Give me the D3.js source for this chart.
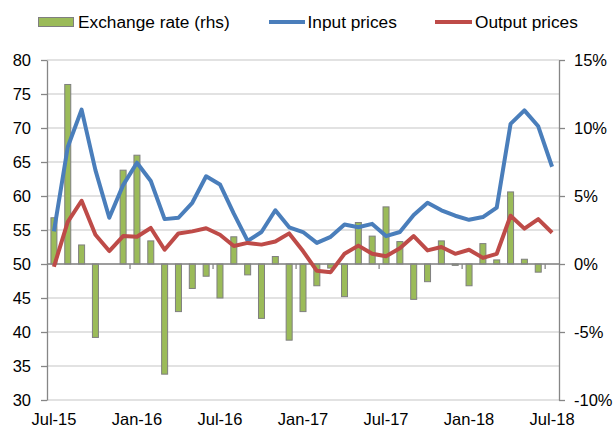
<!DOCTYPE html>
<html>
<head>
<meta charset="utf-8">
<script src="https://cdn.jsdelivr.net/npm/d3@7"></script>
<style>
  body { margin: 0; background: #fff; }
  svg { font-family: "Liberation Sans", Arial, sans-serif; }
</style>
</head>
<body>
<div id="chart"></div>
<script>
// months Jul-15 .. Jul-18
var months = ["Jul-15","Aug-15","Sep-15","Oct-15","Nov-15","Dec-15",
              "Jan-16","Feb-16","Mar-16","Apr-16","May-16","Jun-16",
              "Jul-16","Aug-16","Sep-16","Oct-16","Nov-16","Dec-16",
              "Jan-17","Feb-17","Mar-17","Apr-17","May-17","Jun-17",
              "Jul-17","Aug-17","Sep-17","Oct-17","Nov-17","Dec-17",
              "Jan-18","Feb-18","Mar-18","Apr-18","May-18","Jun-18",
              "Jul-18"];
var xLabels = ["Jul-15","Jan-16","Jul-16","Jan-17","Jul-17","Jan-18","Jul-18"];

// exchange rate, % (right axis)
var exchangeRate = [3.4, 13.2, 1.4, -5.4, null, 6.9,
                    8.0, 1.7, -8.1, -3.5, -1.8, -0.9,
                    -2.5, 2.0, -0.8, -4.0, 0.55, -5.6,
                    -3.5, -1.6, -0.3, -2.4, 3.05, 2.05,
                    4.2, 1.65, -2.6, -1.3, 1.7, -0.1,
                    -1.6, 1.5, 0.3, 5.3, 0.35, -0.6,
                    null];
// input and output prices (left axis)
var inputPrices = [54.8, 67.2, 72.7, 63.8, 56.8, 61.6,
                   64.9, 62.2, 56.6, 56.8, 59.0, 62.9,
                   61.7, 57.4, 53.4, 54.7, 57.9, 55.4,
                   54.7, 53.1, 54.0, 55.8, 55.4, 55.9,
                   54.1, 54.7, 57.2, 59.0, 57.9, 57.1,
                   56.5, 56.9, 58.3, 70.6, 72.6, 70.25,
                   64.3];
var outputPrices = [49.6, 56.2, 59.3, 54.3, 51.9, 54.1,
                    54.0, 55.3, 52.1, 54.5, 54.8, 55.25,
                    54.3, 52.65, 53.1, 52.85, 53.3, 54.5,
                    51.9, 49.0, 48.8, 51.5, 52.7, 51.5,
                    51.15, 52.3, 54.1, 52.0, 52.5, 51.5,
                    52.1, 50.9, 51.5, 57.1, 55.2, 56.6,
                    54.6];
var leftTicks = [30, 35, 40, 45, 50, 55, 60, 65, 70, 75, 80];
var rightTicks = [-10, -5, 0, 5, 10, 15];

var width = 615, height = 427;
var plot = {left: 47, right: 559, top: 60, bottom: 400};
var tickFont = "16.5px", legendFont = "17.3px";

var svg = d3.select("#chart").append("svg")
    .attr("width", width)
    .attr("height", height);

var x = d3.scaleBand()
    .domain(months)
    .range([plot.left, plot.right]);

var yL = d3.scaleLinear().domain([30, 80]).range([plot.bottom, plot.top]);
var yR = d3.scaleLinear().domain([-10, 15]).range([plot.bottom, plot.top]);

//gridlines
svg.append("g")
   .selectAll("line")
   .data(leftTicks)
   .enter().append("line")
   .attr("x1", plot.left)
   .attr("x2", plot.right)
   .attr("y1", function(d) { return yL(d); })
   .attr("y2", function(d) { return yL(d); })
   .attr("stroke", "#d9d9d9")
   .attr("stroke-width", 1.3);

//left axis
var leftAxis = svg.append("g")
    .attr("transform", "translate(" + plot.left + ",0)")
    .call(d3.axisLeft(yL).tickValues(leftTicks).tickSizeInner(6).tickSizeOuter(0).tickPadding(10));
leftAxis.selectAll("path, line").attr("stroke", "#868686").attr("stroke-width", 1.3);
leftAxis.selectAll("text").attr("font-size", tickFont).attr("fill", "#000")
    .attr("font-family", "Liberation Sans, Arial, sans-serif");

//right axis
var rightAxis = svg.append("g")
    .attr("transform", "translate(" + plot.right + ",0)")
    .call(d3.axisRight(yR).tickValues(rightTicks).tickSizeInner(6).tickSizeOuter(0).tickPadding(9)
          .tickFormat(function(d) { return d + "%"; }));
rightAxis.selectAll("path, line").attr("stroke", "#868686").attr("stroke-width", 1.3);
rightAxis.selectAll("text").attr("font-size", tickFont).attr("fill", "#000")
    .attr("font-family", "Liberation Sans, Arial, sans-serif");

//bars for exchange rate
var barW = 6;
svg.append("g")
   .selectAll("rect")
   .data(months.map(function(m, i) { return {m: m, v: exchangeRate[i]}; })
               .filter(function(d) { return d.v !== null; }))
   .enter().append("rect")
   .attr("x", function(d) { return x(d.m) + x.bandwidth() / 2 - barW / 2; })
   .attr("width", barW)
   .attr("y", function(d) { return yR(Math.max(0, d.v)); })
   .attr("height", function(d) { return Math.abs(yR(d.v) - yR(0)); })
   .attr("fill", "#9bbb59")
   .attr("stroke", "#7f7f7f")
   .attr("stroke-width", 1);

//zero line / category axis
svg.append("line")
   .attr("x1", plot.left)
   .attr("x2", plot.right)
   .attr("y1", yR(0))
   .attr("y2", yR(0))
   .attr("stroke", "#868686")
   .attr("stroke-width", 1.3);

svg.append("g")
   .selectAll("line")
   .data(xLabels.slice(1))
   .enter().append("line")
   .attr("x1", function(d) { return x(d); })
   .attr("x2", function(d) { return x(d); })
   .attr("y1", yR(0))
   .attr("y2", yR(0) + 5)
   .attr("stroke", "#868686")
   .attr("stroke-width", 1.3);

//x labels at the bottom
var xAxis = svg.append("g")
    .attr("transform", "translate(0," + plot.bottom + ")")
    .call(d3.axisBottom(x).tickValues(xLabels).tickSize(0).tickPadding(13.5));
xAxis.select(".domain").remove();
xAxis.selectAll("text").attr("font-size", tickFont).attr("fill", "#000")
    .attr("font-family", "Liberation Sans, Arial, sans-serif");

//lines
var line = function(vals) {
    return d3.line()
        .x(function(d, i) { return x(months[i]) + x.bandwidth() / 2; })
        .y(function(d) { return yL(d); })(vals);
};

svg.append("path")
   .attr("d", line(inputPrices))
   .attr("fill", "none")
   .attr("stroke", "#4a7ebb")
   .attr("stroke-width", 4)
   .attr("stroke-linejoin", "round");

svg.append("path")
   .attr("d", line(outputPrices))
   .attr("fill", "none")
   .attr("stroke", "#be4b48")
   .attr("stroke-width", 4)
   .attr("stroke-linejoin", "round");

//legend
var legend = svg.append("g")
    .attr("font-size", legendFont)
    .attr("fill", "#000");

legend.append("rect")
      .attr("x", 38.5).attr("y", 17.5)
      .attr("width", 35).attr("height", 9)
      .attr("fill", "#9bbb59")
      .attr("stroke", "#7f7f7f");
legend.append("text").attr("x", 78).attr("y", 28).text("Exchange rate (rhs)");

legend.append("line")
      .attr("x1", 269).attr("x2", 305).attr("y1", 22).attr("y2", 22)
      .attr("stroke", "#4a7ebb").attr("stroke-width", 4);
legend.append("text").attr("x", 307.5).attr("y", 28).text("Input prices");

legend.append("line")
      .attr("x1", 435).attr("x2", 472).attr("y1", 22).attr("y2", 22)
      .attr("stroke", "#be4b48").attr("stroke-width", 4);
legend.append("text").attr("x", 475).attr("y", 28).text("Output prices");
</script>
</body>
</html>
